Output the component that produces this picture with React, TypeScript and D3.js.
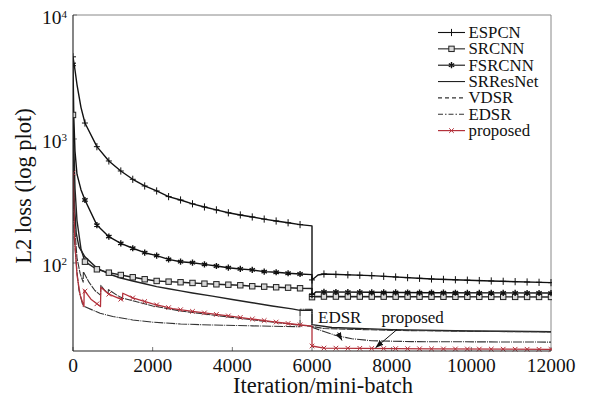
import React from "react";
import * as d3 from "d3";

type Pt = [number, number];

// [iteration, L2 loss]
const espcn: Pt[] = [
  [0, 4600], [50, 3600], [100, 2750], [200, 1800], [300, 1345], [600, 867], [900, 665], [1200, 552],
  [1500, 473], [1800, 418], [2100, 381], [2400, 343], [2700, 322], [3000, 300], [3300, 283], [3600, 268],
  [3900, 254], [4200, 244], [4500, 235], [4800, 226], [5100, 218], [5400, 211], [5700, 204], [6000, 199],
  [6000, 73], [6150, 80], [6300, 81.5], [7500, 79], [9000, 74.3], [10500, 71.6], [12000, 69.4],
];
const srcnn: Pt[] = [
  [0, 1563], [50, 400], [100, 220], [200, 130], [300, 102.4], [600, 88.9], [900, 83.5], [1200, 80],
  [1500, 76.7], [1800, 73.9], [2100, 71.6], [2400, 70.7], [2700, 69.9], [3000, 69], [3300, 68.1],
  [3600, 67.3], [3900, 66.8], [4200, 66.1], [4500, 64.9], [4800, 64.4], [5100, 63.7], [5400, 63.2],
  [5700, 62.5], [6000, 62.2], [6000, 53], [6100, 53.6], [9000, 53.4], [12000, 53.2],
];
const fsrcnn: Pt[] = [
  [0, 4000], [20, 1500], [50, 800], [100, 520], [200, 390], [300, 322], [600, 202], [900, 163],
  [1200, 144], [1500, 131.5], [1800, 121], [2100, 114.6], [2400, 107], [2700, 102.4], [3000, 100.5],
  [3300, 97.5], [3600, 94.5], [3900, 91.6], [4200, 89.5], [4500, 87.9], [4800, 85.1], [5100, 84.2],
  [5400, 82.6], [5700, 81.5], [6000, 80.5], [6000, 55], [6100, 58.5], [7500, 58], [9000, 57.6], [12000, 57.2],
];
const srresnet: Pt[] = [
  [0, 900], [30, 320], [80, 175], [150, 135], [300, 112], [600, 91], [900, 81.5], [1200, 75.6],
  [1500, 71.6], [1800, 68], [2100, 64.5], [2400, 62], [2700, 59.5], [3000, 57.3], [3500, 54],
  [4000, 50.8], [4500, 47.8], [5000, 45], [5500, 42.6], [5700, 41.5], [6000, 41.8], [6000, 31.8],
  [6500, 30.2], [8000, 29], [10000, 28.3], [12000, 27.9],
];
const vdsr: Pt[] = [
  [0, 700], [40, 200], [100, 110], [180, 82], [255, 70], [260, 85], [400, 70], [550, 60], [690, 55],
  [700, 66], [800, 60], [880, 57], [890, 61], [1100, 55], [1250, 52], [1500, 49.5], [2000, 45],
  [2700, 41], [3500, 38], [4500, 34.8], [5500, 32], [6000, 30.8], [6300, 29.6], [8000, 28.6],
  [10000, 28.1], [12000, 27.8],
];
const edsr: Pt[] = [
  [0, 400], [30, 160], [93, 90], [150, 60], [250, 45], [680, 39.3], [1000, 37], [1500, 34.7],
  [2000, 33.3], [2700, 32.2], [3500, 31.6], [4500, 31.1], [5700, 30.6], [5700, 42.3], [6000, 42.3],
  [6000, 30.3], [6300, 28], [6600, 26], [7000, 24.5], [7500, 23.6], [8500, 23.2], [12000, 23.0],
];
const proposed: Pt[] = [
  [0, 532], [40, 160], [100, 80], [180, 55], [275, 44.5], [280, 60.5], [450, 51], [690, 44.5],
  [700, 63.7], [900, 56], [1240, 50.4], [1250, 57], [1500, 52.3], [2000, 46.7], [2500, 42.9],
  [3000, 40.7], [3500, 38.8], [4000, 37.1], [4500, 35.3], [5000, 33.7], [5500, 32.2], [6000, 31],
  [6000, 21.4], [6300, 20.6], [9000, 20.3], [12000, 20.1],
];

const seriesNames = ["ESPCN", "SRCNN", "FSRCNN", "SRResNet", "VDSR", "EDSR", "proposed"];
const xTicks = [0, 2000, 4000, 6000, 8000, 10000, 12000];
const yTicks = [100, 1000, 10000];
const yTickExp = ["2", "3", "4"];

const RED = "#b3313b";
const FONT = '"Liberation Serif", Tinos, "Times New Roman", "DejaVu Serif", serif';

type MarkerKind = "plus" | "square" | "star" | "x" | "none";

interface Style {
  color: string;
  width: number;
  dash?: string;
  marker: MarkerKind;
}

const styles: Style[] = [
  { color: "#111", width: 1.4, marker: "plus" },
  { color: "#222", width: 1.4, marker: "square" },
  { color: "#111", width: 1.4, marker: "star" },
  { color: "#222", width: 1.4, marker: "none" },
  { color: "#333", width: 1.1, dash: "7,1", marker: "none" },
  { color: "#333", width: 1.1, dash: "9,1,1,1", marker: "none" },
  { color: RED, width: 1.3, marker: "x" },
];
const legendDash: (string | undefined)[] = [undefined, undefined, undefined, undefined, "4,3", "5,2,1.5,2", undefined];

function Marker({ kind, px, py, color }: { kind: MarkerKind; px: number; py: number; color: string }) {
  if (kind === "plus") {
    return <path d={`M${px - 3},${py}H${px + 3}M${px},${py - 3.6}V${py + 3.6}`} stroke={color} strokeWidth={1} fill="none" />;
  }
  if (kind === "square") {
    return <rect x={px - 2.7} y={py - 2.7} width={5.4} height={5.4} fill="#d8d8d8" stroke="#222" strokeWidth={1} />;
  }
  if (kind === "star") {
    const r = 3.1;
    const d = [90, 30, 150]
      .map((a) => {
        const rad = (a * Math.PI) / 180;
        const dx = r * Math.cos(rad), dy = r * Math.sin(rad);
        return `M${px - dx},${py - dy}L${px + dx},${py + dy}`;
      })
      .join("");
    return <path d={d} stroke={color} strokeWidth={1.4} fill="none" />;
  }
  if (kind === "x") {
    const r = 2.3;
    return <path d={`M${px - r},${py - r}L${px + r},${py + r}M${px - r},${py + r}L${px + r},${py - r}`} stroke={color} strokeWidth={1} fill="none" />;
  }
  return null;
}

export default function App() {
  const W = 592, H = 400;
  const left = 73, right = 551, top = 15, bottom = 351;
  const x = d3.scaleLinear().domain([0, 12000]).range([left, right]);
  const y = d3.scaleLog().domain([19.5, 10000]).range([bottom, top]);
  const line = d3.line<Pt>().x((d) => x(d[0])).y((d) => y(d[1]));
  const allSeries = [espcn, srcnn, fsrcnn, srresnet, vdsr, edsr, proposed];
  const markerIters = d3.range(0, 12001, 300);

  // position of a marker on the drawn polyline (pixel-space placement)
  const pointOn = (data: Pt[], m: number): [number, number] | null => {
    let idx = -1;
    for (let i = 0; i < data.length; i++) if (data[i][0] === m) idx = i;
    if (idx >= 0) return [x(data[idx][0]), y(data[idx][1])];
    for (let i = 0; i < data.length - 1; i++) {
      const a = data[i], b = data[i + 1];
      if (a[0] < m && m < b[0]) {
        const t = (m - a[0]) / (b[0] - a[0]);
        const ya = y(a[1]), yb = y(b[1]);
        return [x(m), ya + (yb - ya) * t];
      }
    }
    return null;
  };

  const legX0 = 438, legX1 = 465, legTextX = 468.5, legY0 = 32.5, legDy = 16.35;
  const txt = { fontFamily: FONT };

  return (
    <svg width={W} height={H} style={{ position: "absolute", left: 0, top: 0, display: "block", background: "#fff", fontFamily: FONT }}>
      <defs>
        <clipPath id="plotClip">
          <rect x={left} y={top - 4} width={right - left + 1} height={bottom - top + 8} />
        </clipPath>
        <marker id="arr" viewBox="0 0 8 6" refX="8" refY="3" markerWidth="8" markerHeight="6" markerUnits="userSpaceOnUse" orient="auto">
          <path d="M0,0L8,3L0,6z" fill="#111" />
        </marker>
      </defs>

      {/* frame */}
      <line x1={left} y1={top} x2={right} y2={top} stroke="#888" strokeWidth={1} />
      <line x1={right} y1={top} x2={right} y2={bottom} stroke="#888" strokeWidth={1} />

      {/* ticks */}
      {xTicks.map((t) => (
        <line key={"xt" + t} x1={x(t)} x2={x(t)} y1={bottom} y2={bottom - 4} stroke="#777" strokeWidth={1} />
      ))}
      {yTicks.map((t) => (
        <line key={"yt" + t} x1={left} x2={left + 4} y1={y(t)} y2={y(t)} stroke="#777" strokeWidth={1} />
      ))}

      {/* series */}
      <g clipPath="url(#plotClip)">
        {allSeries.map((data, i) => (
          <path key={"s" + i} d={line(data) || ""} fill="none" stroke={styles[i].color} strokeWidth={styles[i].width}
            strokeDasharray={styles[i].dash} strokeLinejoin="round" />
        ))}
        {allSeries.map((data, i) =>
          styles[i].marker === "none"
            ? null
            : markerIters.map((m) => {
                const p = pointOn(data, m);
                if (!p) return null;
                return <Marker key={`m${i}-${m}`} kind={styles[i].marker} px={p[0]} py={p[1]} color={styles[i].color} />;
              })
        )}
      </g>

      {/* axes */}
      <line x1={left} y1={top} x2={left} y2={bottom} stroke="#222" strokeWidth={1.1} />
      <line x1={left} y1={bottom} x2={right} y2={bottom} stroke="#222" strokeWidth={1.1} />

      {/* tick labels */}
      {xTicks.map((t) => (
        <text key={"xl" + t} x={x(t)} y={372} textAnchor="middle" fontSize={19.5} fill="#111" style={txt}>{t}</text>
      ))}
      {yTicks.map((t, i) => (
        <text key={"yl" + t} x={67} y={y(t) + 9} textAnchor="end" fontSize={19.5} fill="#111" style={txt}>
          10<tspan fontSize={11} dy={-6.5}>{yTickExp[i]}</tspan>
        </text>
      ))}

      {/* axis titles */}
      <text x={323} y={393} textAnchor="middle" fontSize={22.5} fill="#111" style={txt}>Iteration/mini-batch</text>
      <text transform="translate(31,186) rotate(-90)" textAnchor="middle" fontSize={22.5} fill="#111" style={txt}>L2 loss (log plot)</text>

      {/* legend */}
      {seriesNames.map((name, i) => {
        const cy = legY0 + i * legDy;
        return (
          <g key={"lg" + name}>
            <line x1={legX0} x2={legX1} y1={cy} y2={cy} stroke={styles[i].color} strokeWidth={i === 6 ? 1.2 : 1.1}
              strokeDasharray={legendDash[i]} />
            {styles[i].marker !== "none" && (
              <Marker kind={styles[i].marker} px={(legX0 + legX1) / 2} py={cy} color={styles[i].color} />
            )}
            <text x={legTextX} y={cy + 5.5} fontSize={16.8} fill="#111" style={txt}>{name}</text>
          </g>
        );
      })}

      {/* annotations */}
      <text x={318} y={322.7} fontSize={17} fill="#111" style={txt}>EDSR</text>
      <text x={381.5} y={322.7} fontSize={17} fill="#111" style={txt}>proposed</text>
      <line x1={337.7} y1={332.5} x2={342} y2={340.5} stroke="#111" strokeWidth={1} markerEnd="url(#arr)" />
      <line x1={397} y1={329.5} x2={375.5} y2={347.8} stroke="#111" strokeWidth={1} markerEnd="url(#arr)" />
    </svg>
  );
}
